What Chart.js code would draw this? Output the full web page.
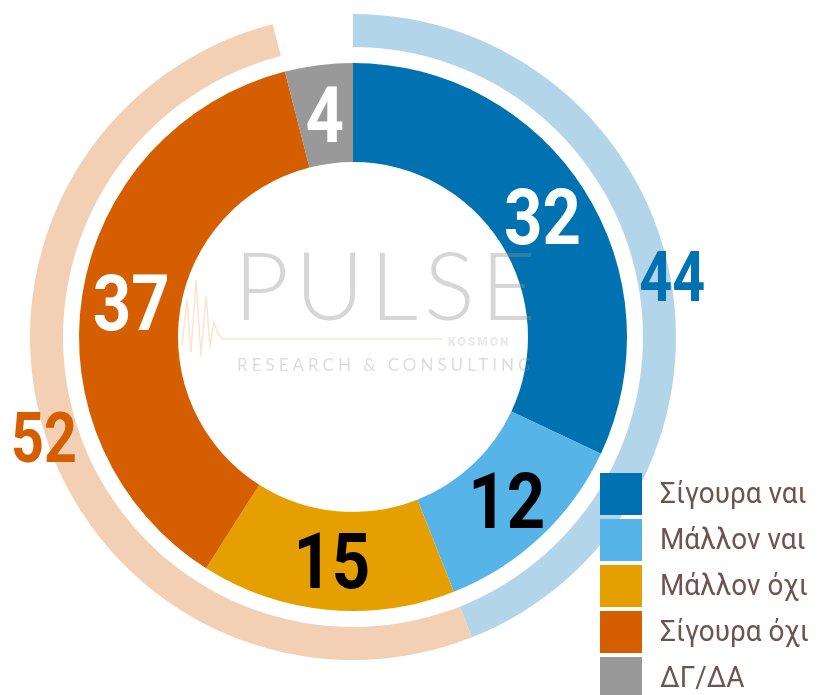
<!DOCTYPE html>
<html>
<head>
<meta charset="utf-8">
<script src="https://cdn.jsdelivr.net/npm/chart.js@4"></script>
<style>
    html, body { margin: 0; padding: 0; background: #fff; }
    canvas { display: block; }
</style>
</head>
<body>
<canvas id="voteChart" width="819" height="695"></canvas>
<script>
// answers (inner ring)
const categories = ['Σίγουρα ναι', 'Μάλλον ναι', 'Μάλλον όχι', 'Σίγουρα όχι', 'ΔΓ/ΔΑ'];
const values = [32, 12, 15, 37, 4];
const sliceColors = ['#0072B2', '#56B4E9', '#E69F00', '#D55E00', '#999999'];
const valueTextColors = ['#ffffff', '#000000', '#000000', '#ffffff', '#ffffff'];

// totals (outer ring): yes = 32 + 12, no = 15 + 37, rest is the ΔΓ/ΔΑ gap
const totalLabels = ['Ναι', 'Όχι'];
const totalValues = [44, 52];
const totalColors = ['#B3D5E9', '#F3D0B4'];
const totalTextColors = ['#0072B2', '#D55E00'];

const legendTextColor = '#6E544C';

// draws the big condensed numbers
function drawNumber(ctx, text, x, y, size, color, squeeze) {
    ctx.save();
    ctx.font = 'bold ' + size + 'px Roboto, "DejaVu Sans", sans-serif';
    ctx.fillStyle = color;
    ctx.textAlign = 'center';
    ctx.textBaseline = 'alphabetic';
    ctx.translate(x, y + size * 0.711 / 2);
    ctx.scale(squeeze, 1);
    ctx.fillText(text, 0, 0);
    ctx.restore();
}

// faint logo in the hole of the doughnut
const watermark = {
    id: 'watermark',
    afterDatasetsDraw(chart) {
        const ctx = chart.ctx;
        ctx.save();
        // pulse line
        ctx.strokeStyle = 'rgba(245, 165, 95, 0.3)';
        ctx.lineWidth = 1.5;
        ctx.beginPath();
        const pts = [[182, 346], [187, 300], [191, 352], [196, 280], [201, 356], [206, 296], [210, 346], [214, 322], [218, 334], [223, 339], [442, 339]];
        pts.forEach((p, i) => i ? ctx.lineTo(p[0], p[1]) : ctx.moveTo(p[0], p[1]));
        ctx.stroke();

        ctx.fillStyle = 'rgba(140, 140, 140, 0.36)';
        ctx.textAlign = 'left';
        ctx.textBaseline = 'alphabetic';
        ctx.font = '300 95px Lato, Roboto, sans-serif';
        ctx.letterSpacing = '6px';
        ctx.fillText('PULSE', 234, 320);

        ctx.font = '17px Lato, Roboto, sans-serif';
        ctx.letterSpacing = '4px';
        ctx.fillStyle = 'rgba(140, 140, 140, 0.3)';
        ctx.fillText('RESEARCH & CONSULTING', 237, 371);

        ctx.font = '900 12px Roboto, sans-serif';
        ctx.letterSpacing = '2px';
        ctx.fillStyle = 'rgba(140, 140, 140, 0.18)';
        ctx.fillText('KOSMON', 448, 346);
        ctx.restore();
    }
};

// value labels on the rings
const ringLabels = {
    id: 'ringLabels',
    afterDatasetsDraw(chart) {
        const ctx = chart.ctx;
        const inner = chart.getDatasetMeta(2);
        inner.data.forEach((arc, i) => {
            const c = arc.getCenterPoint();
            drawNumber(ctx, String(values[i]), c.x, c.y, 78, valueTextColors[i], 0.86);
        });
        const outer = chart.getDatasetMeta(0);
        totalValues.forEach((v, i) => {
            const arc = outer.data[i];
            const p = arc.getProps(['x', 'y', 'startAngle', 'endAngle', 'outerRadius']);
            const mid = (p.startAngle + p.endAngle) / 2;
            const r = p.outerRadius + 2;
            drawNumber(ctx, String(v), p.x + Math.cos(mid) * r, p.y + Math.sin(mid) * r, 70, totalTextColors[i], 0.82);
        });
    }
};

// legend in the lower right corner
const cornerLegend = {
    id: 'cornerLegend',
    afterDraw(chart) {
        const ctx = chart.ctx;
        ctx.save();
        ctx.font = '30px Roboto, sans-serif';
        ctx.textBaseline = 'middle';
        ctx.textAlign = 'left';
        categories.forEach((name, i) => {
            const top = 473 + i * 46;
            ctx.fillStyle = sliceColors[i];
            ctx.fillRect(600, top, 42, 42);
            ctx.save();
            ctx.translate(660, top + 22);
            ctx.scale(0.93, 1);
            ctx.fillStyle = legendTextColor;
            ctx.fillText(name, 0, 0);
            ctx.restore();
        });
        ctx.restore();
    }
};

new Chart(document.getElementById('voteChart'), {
    type: 'doughnut',
    data: {
        labels: categories,
        datasets: [
            {
                label: 'Σύνολο',
                data: [...totalValues, values[4]],
                backgroundColor: [...totalColors, 'rgba(0,0,0,0)'],
                borderWidth: 0,
                weight: 33
            },
            {
                label: 'gap',
                data: [1],
                backgroundColor: 'rgba(0,0,0,0)',
                borderWidth: 0,
                weight: 16
            },
            {
                label: 'Απαντήσεις',
                data: values,
                backgroundColor: sliceColors,
                borderWidth: 0,
                weight: 99
            }
        ]
    },
    options: {
        responsive: false,
        animation: false,
        cutout: 175,
        layout: {
            padding: { left: 30, top: 14, right: 143, bottom: 35 }
        },
        plugins: {
            legend: { display: false },
            tooltip: { enabled: false }
        }
    },
    plugins: [watermark, ringLabels, cornerLegend]
});
</script>
</body>
</html>
